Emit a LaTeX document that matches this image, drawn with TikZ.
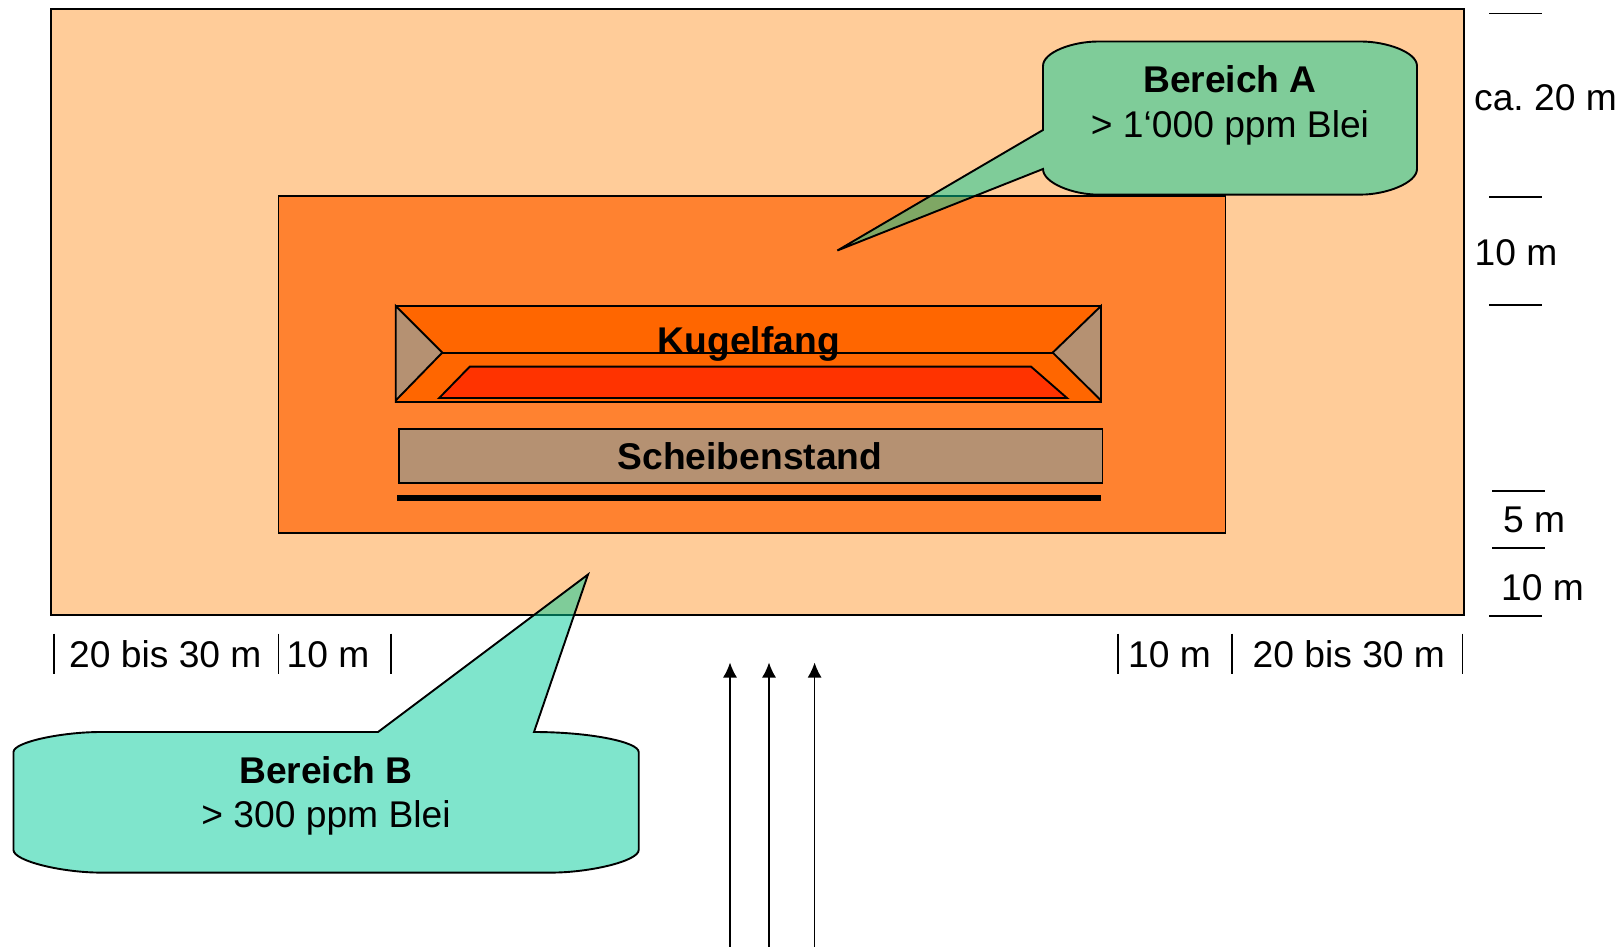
\documentclass[tikz,border=0pt]{standalone}
\usepackage{fontspec}
\setmainfont{Liberation Sans}
\definecolor{outerc}{HTML}{FFCC99}
\definecolor{innerc}{HTML}{FF8230}
\definecolor{kugelc}{HTML}{FF6600}
\definecolor{redc}{HTML}{FF3300}
\definecolor{brownc}{HTML}{B59172}
\definecolor{bubblec}{HTML}{00CC99}
\tikzset{
  outl/.style={draw=black,line width=1.9pt,line join=miter},
  bubble/.style={draw=black,line width=1.9pt,fill=bubblec,fill opacity=0.5,draw opacity=1,line join=miter},
  tick/.style={draw=black,line width=1.7pt},
  flow/.style={draw=black,line width=1.5pt,-{Latex[length=15pt,width=14pt]}},
  lab/.style={anchor=base west,inner sep=0pt,font=\fontsize{37.2}{44}\selectfont\frenchspacing},
  ctr/.style={anchor=base,inner sep=0pt,font=\fontsize{37.2}{44}\selectfont},
  bld/.style={anchor=base,inner sep=0pt,font=\fontsize{37.2}{44}\selectfont\bfseries}
}
\usetikzlibrary{arrows.meta}
\begin{document}
\begin{tikzpicture}[x=1pt,y=-1pt]
\useasboundingbox (0,0) rectangle (1623,947);
% areas
\draw[outl,fill=outerc] (51,9.3) rectangle (1464,615);
\draw[outl,fill=innerc] (278.5,196) rectangle (1225.5,533);
% Kugelfang
\draw[outl,fill=kugelc] (395.7,306) rectangle (1101,402);
\draw[outl,fill=brownc] (395.7,306) -- (442.3,352.6) -- (395.7,400.5) -- cycle;
\draw[outl,fill=brownc] (1101,306) -- (1052.7,352.6) -- (1101,400.5) -- cycle;
\draw[outl] (442.3,352.6) -- (1052.7,352.6);
\draw[outl,fill=redc] (469.8,366.6) -- (1031,366.6) -- (1067,398) -- (439.2,398) -- cycle;
\node[bld] (kugel) at (748.8,353) {Kugelfang};
% Scheibenstand
\draw[outl,fill=brownc] (398.8,428.6) rectangle (1102.5,482.7);
\node[bld] (scheibe) at (750,469) {Scheibenstand};
\fill[black] (396.7,495) rectangle (1101,500.5);
% Bubble A
\draw[bubble] (1043,130) -- (1043,66)
  .. controls (1043,52) and (1073,41.5) .. (1098,41.5)
  -- (1361,41.5)
  .. controls (1386,41.5) and (1417,52) .. (1417,66)
  -- (1417,169)
  .. controls (1417,183) and (1386,194.6) .. (1361,194.6)
  -- (1098,194.6)
  .. controls (1073,194.6) and (1043,183) .. (1043,169)
  -- (837.4,250.5) -- cycle;
\node[bld] (bA) at (1230,93) {Bereich A};
\node[ctr] (tA) at (1230,138) {> 1‘000 ppm Blei};
% Bubble B
\draw[bubble] (378,732) -- (101,732)
  .. controls (62,732) and (13.5,742) .. (13.5,752)
  -- (13.5,850)
  .. controls (13.5,861) and (62,872.6) .. (101,872.6)
  -- (551,872.6)
  .. controls (590,872.6) and (638.7,861) .. (638.7,850)
  -- (638.7,752)
  .. controls (638.7,742) and (590,732) .. (534,732)
  -- (588,574.5) -- cycle;
\node[bld] (bB) at (326,783) {Bereich B};
\node[ctr] (tB) at (326,827.5) {> 300 ppm Blei};
% dimension ticks right
\draw[tick] (1489,13.5) -- (1541.5,13.5);
\draw[tick] (1489,196.7) -- (1541.5,196.7);
\draw[tick] (1489,305) -- (1541.5,305);
\draw[tick] (1492,490.7) -- (1544.5,490.7);
\draw[tick] (1492,547.7) -- (1544.5,547.7);
\draw[tick] (1489,616) -- (1541.5,616);
% dimension ticks bottom
\foreach \x in {54,278.5,391,1118,1232,1462.6}
  \draw[tick] (\x,633.5) -- (\x,674);
% labels
\node[lab] (l1) at (1474,111) {ca. 20 m};
\node[lab] (l2) at (1474.5,265) {10 m};
\node[lab] (l3) at (1503,532) {5 m};
\node[lab] (l4) at (1501,600) {10 m};
\node[lab] (b1) at (69,667) {20 bis 30 m};
\node[lab] (b2) at (286.5,667) {10 m};
\node[lab] (b3) at (1128,667) {10 m};
\node[lab] (b4) at (1252.5,667) {20 bis 30 m};
% arrows
\coordinate (a1s) at (730,947); \coordinate (a1e) at (730,662.5);
\coordinate (a2s) at (769,947); \coordinate (a2e) at (769,662.5);
\coordinate (a3s) at (814.6,947); \coordinate (a3e) at (814.6,662.5);
\draw[flow] (a1s) -- (a1e);
\draw[flow] (a2s) -- (a2e);
\draw[flow] (a3s) -- (a3e);
\end{tikzpicture}
\end{document}
